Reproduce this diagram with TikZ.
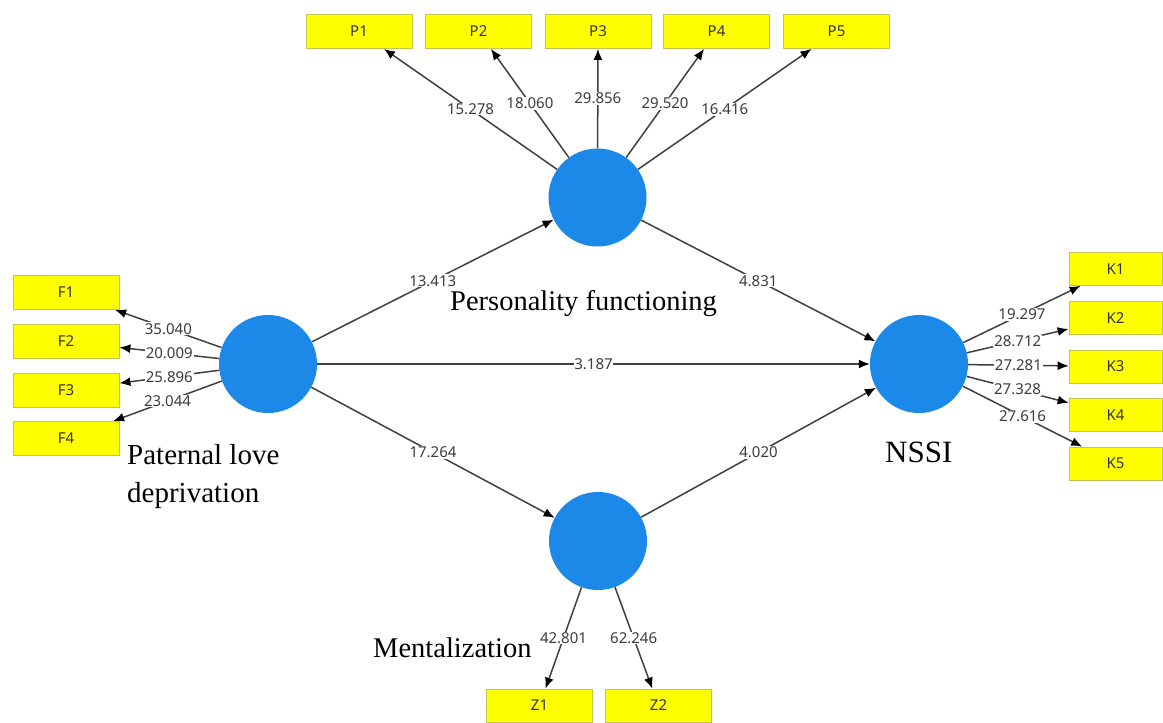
\documentclass[tikz,border=0pt]{standalone}
\usepackage{fontspec}
\setmainfont{Liberation Serif}
\newfontfamily\numfont{Noto Sans}
\usepackage{tikz}
\usetikzlibrary{arrows.meta}
\definecolor{latentblue}{RGB}{28,137,232}
\definecolor{itemyellow}{RGB}{255,255,0}
\definecolor{itemline}{RGB}{196,196,80}
\definecolor{pathgray}{RGB}{64,64,64}
\definecolor{weightgray}{RGB}{60,60,60}
\tikzset{
  latent/.style={circle, fill=latentblue, minimum size=98pt, inner sep=0pt},
  item/.style={rectangle, fill=itemyellow, draw=itemline, line width=0.8pt, minimum width=106pt, minimum height=34pt, inner sep=0pt, text=black!80, font=\numfont\fontsize{15}{17}\selectfont},
  weight/.style={fill=white, inner sep=0.8pt, text=weightgray, font=\numfont\fontsize{15}{17}\selectfont},
  load/.style={draw=pathgray, line width=1.5pt, -{Latex[length=11pt,width=9pt,color=black]}},
  construct/.style={inner sep=0pt, font=\fontsize{28.5}{37}\selectfont}
}

\begin{document}
\begin{tikzpicture}[x=1pt,y=-1pt]
% Draw the background and fix the page size
\fill[white] (0,0) rectangle (1163,723);

% Define the latent constructs
\node[latent] (pf) at (597.5,197.5) {};
\node[latent] (pld) at (268,364) {};
\node[latent] (nssi) at (919,364) {};
\node[latent] (ment) at (598,541) {};

% Define the indicator boxes
\node[item] (p1) at (359,31.5) {P1};
\node[item] (p2) at (478.5,31.5) {P2};
\node[item] (p3) at (598,31.5) {P3};
\node[item] (p4) at (716.5,31.5) {P4};
\node[item] (p5) at (836.5,31.5) {P5};
\node[item] (f1) at (66,292.5) {F1};
\node[item] (f2) at (66,341.5) {F2};
\node[item] (f3) at (66,390) {F3};
\node[item] (f4) at (66,438.5) {F4};
\node[item, minimum width=93pt, minimum height=33pt] (k1) at (1115.5,269) {K1};
\node[item, minimum width=93pt, minimum height=33pt] (k2) at (1115.5,318) {K2};
\node[item, minimum width=93pt, minimum height=33pt] (k3) at (1115.5,366.5) {K3};
\node[item, minimum width=93pt, minimum height=33pt] (k4) at (1115.5,415) {K4};
\node[item, minimum width=93pt, minimum height=33pt] (k5) at (1115.5,463.5) {K5};
\node[item, minimum height=33pt] (z1) at (539.5,705.5) {Z1};
\node[item, minimum height=33pt] (z2) at (658.5,705.5) {Z2};

% Draw the outer loadings of personality functioning
\draw[load] (pf) -- node[weight] {15.278} (p1);
\draw[load] (pf) -- node[weight] {18.060} (p2);
\draw[load] (pf) -- node[weight] {29.856} (p3);
\draw[load] (pf) -- node[weight] {29.520} (p4);
\draw[load] (pf) -- node[weight] {16.416} (p5);

% Draw the outer loadings of paternal love deprivation
\draw[load] (pld) -- node[weight] {35.040} (f1);
\draw[load] (pld) -- node[weight] {20.009} (f2);
\draw[load] (pld) -- node[weight] {25.896} (f3);
\draw[load] (pld) -- node[weight] {23.044} (f4);

% Draw the outer loadings of NSSI
\draw[load] (nssi) -- node[weight] {19.297} (k1);
\draw[load] (nssi) -- node[weight] {28.712} (k2);
\draw[load] (nssi) -- node[weight] {27.281} (k3);
\draw[load] (nssi) -- node[weight] {27.328} (k4);
\draw[load] (nssi) -- node[weight] {27.616} (k5);

% Draw the outer loadings of mentalization
\draw[load] (ment) -- node[weight] {42.801} (z1);
\draw[load] (ment) -- node[weight] {62.246} (z2);

% Draw the structural paths
\draw[load] (pld) -- node[weight] {13.413} (pf);
\draw[load] (pf) -- node[weight] {4.831} (nssi);
\draw[load] (pld) -- node[weight] {3.187} (nssi);
\draw[load] (pld) -- node[weight] {17.264} (ment);
\draw[load] (ment) -- node[weight] {4.020} (nssi);

% Name the constructs
\node[construct, anchor=base west] (pflabel) at (450,310) {Personality functioning};
\node[construct, anchor=north west, align=left, font=\fontsize{29}{38}\selectfont] (pldlabel) at (127,444) {Paternal love\\deprivation};
\node[construct, anchor=base west, font=\fontsize{31}{37}\selectfont] (nssilabel) at (885,462) {NSSI};
\node[construct, anchor=base west] (mentlabel) at (373,657) {Mentalization};
\end{tikzpicture}
\end{document}
